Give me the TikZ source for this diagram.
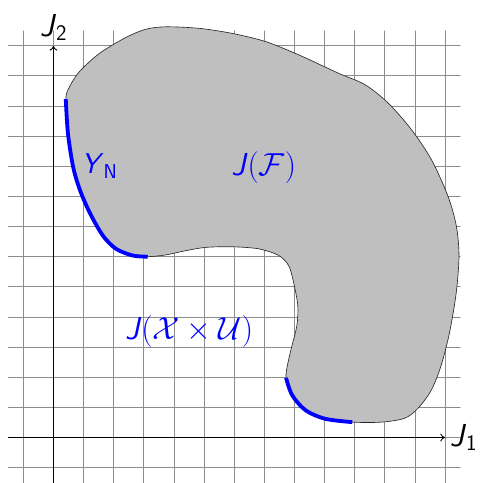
\RequirePackage{fix-cm}
\documentclass[tikz,border=0pt]{standalone}
\usepackage{amsmath,amssymb}
\usepackage{tikz}
\usetikzlibrary{arrows.meta}
\usepackage{xcolor}
\newcommand{\sfit}[1]{\textsf{\textit{#1}}}

\begin{document}
\begin{tikzpicture}[>={To[length=1.6mm,width=2.6mm]},font=\fontsize{30}{36}\selectfont,line cap=round]
\useasboundingbox (-1.773,-1.510) rectangle (14.15,14.52);
\draw[black!45,line width=0.8pt] (-1.5,-1.6) grid (13.5,13.5);
\coordinate (xstart) at (-1.5,0);
\coordinate (xend) at (13,0);
\coordinate (ystart) at (0,-1.6);
\coordinate (yend) at (0,13);
\draw[->,line width=0.8pt] (xstart) -- (xend);
\draw[->,line width=0.9pt] (ystart) -- (yend);
\node[right=1pt] (j1) at (xend) {$\sfit{J}_{\textsf{1}}$};
\node[above=1pt] (j2) at (yend) {$\sfit{J}_{\textsf{2}}$};
% the set J(F)
\filldraw[fill=black!25,draw=black!85,line width=0.6pt] plot[smooth cycle,tension=0.5] coordinates {
(0.41,11.23) (0.48,10.11) (0.65,9.00) (0.87,8.24) (1.20,7.47) (1.64,6.70)
(2.08,6.26) (2.63,6.04) (3.13,6.00) (3.73,6.06) (4.39,6.20) (5.06,6.31)
(5.94,6.33) (6.82,6.26) (7.48,6.04) (7.81,5.70) (7.97,5.15) (8.11,4.38)
(8.08,3.72) (7.92,3.06) (7.79,2.51) (7.72,1.98) (7.92,1.41) (8.36,0.91)
(9.02,0.62) (9.92,0.51) (10.89,0.51) (11.66,0.64) (12.10,0.97) (12.54,1.57)
(12.87,2.40) (13.15,3.50) (13.37,4.82) (13.46,6.04) (13.37,7.03) (13.09,8.02)
(12.54,9.23) (11.88,10.22) (11.11,11.10) (10.34,11.71) (9.46,12.09) (8.14,12.70)
(7.04,13.14) (5.94,13.41) (4.83,13.58) (3.73,13.63) (3.07,13.55) (2.41,13.28)
(1.53,12.75) (0.87,12.15) (0.54,11.65)};
% nondominated parts
\draw[blue,line width=3.6pt,line cap=butt] plot[smooth,tension=0.5] coordinates {
(0.41,11.23) (0.48,10.11) (0.65,9.00) (0.87,8.24) (1.20,7.47) (1.64,6.70)
(2.08,6.26) (2.63,6.04) (3.13,6.00)};
\draw[blue,line width=3.6pt,line cap=butt] plot[smooth,tension=0.5] coordinates {
(7.72,1.98) (7.92,1.41) (8.36,0.91) (9.02,0.62) (9.92,0.51)};
\node[blue,font=\fontsize{27}{32}\selectfont] (yn) at (1.53,9.01) {$\sfit{Y}_{\textsf{N}}$};
\node[blue] (jf) at (6.98,8.95) {$\sfit{J}(\mathcal{F})$};
\node[blue] (jxu) at (4.50,3.50) {$\sfit{J}(\mathcal{X}\times\mathcal{U})$};
\end{tikzpicture}
\end{document}
